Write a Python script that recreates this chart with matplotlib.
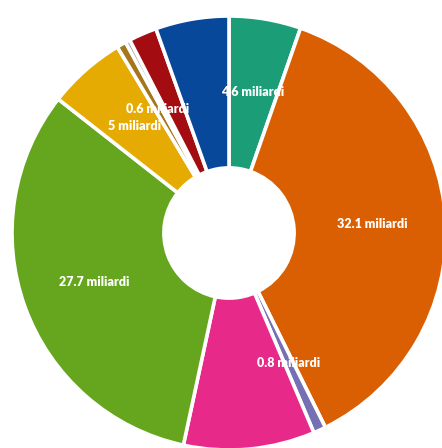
import numpy as np
import matplotlib
matplotlib.use("Agg")
import matplotlib.pyplot as plt

# Slice values (miliardi), clockwise from 12 o'clock
values = [4.6, 32.1, 0.8, 8.4, 27.7, 5.0, 0.6, 0.3, 1.8, 4.7]
colors = ["#1b9e77", "#d95f02", "#7570b3", "#e7298a", "#66a61e",
          "#e6ab02", "#a6761d", "#9a9aa8", "#a30d12", "#07489a"]
# which slices get a value label
show_label = [True, True, True, False, True, True, True, False, False, False]

W, H = 442, 448
cx, cy, R = 229, 233, 217  # centre and outer radius in pixels

fig = plt.figure(figsize=(W / 100, H / 100), dpi=100)
ax = fig.add_axes([0, 0, 1, 1])

wedges, _ = ax.pie(values, colors=colors, startangle=90, counterclock=False,
                   radius=1.0, frame=True,
                   wedgeprops=dict(width=0.70, edgecolor="white",
                                   linewidth=2.6, joinstyle="round"))
ax.set_xlim(-cx / R, (W - cx) / R)
ax.set_ylim(-(H - cy) / R, cy / R)
ax.set_aspect("auto")
ax.axis("off")

# value labels at the middle of each labelled slice
for w, v, lab in zip(wedges, values, show_label):
    if not lab:
        continue
    mid = np.deg2rad((w.theta1 + w.theta2) / 2)
    r = 0.66
    ax.text(r * np.cos(mid), r * np.sin(mid), f"{v:g} miliardi",
            ha="center", va="center", color="white", fontsize=9,
            fontweight="heavy", family="Lato")

fig.savefig("out.png", dpi=100, facecolor="white")
